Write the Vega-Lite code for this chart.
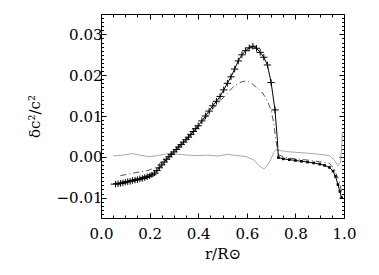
{
  "$schema": "https://vega.github.io/schema/vega-lite/v6.json",
  "width": 243,
  "height": 204,
  "autosize": {"type": "none"},
  "padding": {"left": 101, "top": 14, "right": 35, "bottom": 57},
  "background": "white",
  "config": {
    "view": {"stroke": "black", "strokeWidth": 1},
    "axis": {
      "grid": false,
      "domain": false,
      "tickColor": "black",
      "tickWidth": 1,
      "labelFont": "DejaVu Serif, serif",
      "labelFontSize": 15,
      "labelColor": "black",
      "labelFlush": false,
      "labelOverlap": false,
      "titleFont": "DejaVu Serif, serif",
      "titleFontSize": 15,
      "titleFontWeight": "normal",
      "titleColor": "black"
    }
  },
  "datasets": {
    "main": [
      {"r": 0.06, "v": -0.0067, "er": 0.02, "ev": 0.0008, "kind": "inv"},
      {"r": 0.07, "v": -0.0066, "er": 0.02, "ev": 0.0008, "kind": "inv"},
      {"r": 0.08, "v": -0.0065, "er": 0.02, "ev": 0.0008, "kind": "inv"},
      {"r": 0.09, "v": -0.0064, "er": 0.02, "ev": 0.0008, "kind": "inv"},
      {"r": 0.10, "v": -0.0062, "er": 0.02, "ev": 0.0008, "kind": "inv"},
      {"r": 0.11, "v": -0.0061, "er": 0.02, "ev": 0.0008, "kind": "inv"},
      {"r": 0.12, "v": -0.0060, "er": 0.02, "ev": 0.0008, "kind": "inv"},
      {"r": 0.13, "v": -0.0058, "er": 0.02, "ev": 0.0008, "kind": "inv"},
      {"r": 0.14, "v": -0.0057, "er": 0.02, "ev": 0.0008, "kind": "inv"},
      {"r": 0.15, "v": -0.0056, "er": 0.02, "ev": 0.0008, "kind": "inv"},
      {"r": 0.16, "v": -0.0054, "er": 0.02, "ev": 0.0008, "kind": "inv"},
      {"r": 0.17, "v": -0.0053, "er": 0.02, "ev": 0.0008, "kind": "inv"},
      {"r": 0.18, "v": -0.0051, "er": 0.02, "ev": 0.0008, "kind": "inv"},
      {"r": 0.19, "v": -0.0049, "er": 0.02, "ev": 0.0008, "kind": "inv"},
      {"r": 0.20, "v": -0.0047, "er": 0.018, "ev": 0.0007, "kind": "inv"},
      {"r": 0.21, "v": -0.0044, "er": 0.018, "ev": 0.0007, "kind": "inv"},
      {"r": 0.22, "v": -0.0040, "er": 0.017, "ev": 0.0007, "kind": "inv"},
      {"r": 0.23, "v": -0.0034, "er": 0.016, "ev": 0.0007, "kind": "inv"},
      {"r": 0.24, "v": -0.0027, "er": 0.015, "ev": 0.0007, "kind": "inv"},
      {"r": 0.25, "v": -0.0020, "er": 0.015, "ev": 0.0007, "kind": "inv"},
      {"r": 0.26, "v": -0.0013, "er": 0.015, "ev": 0.0007, "kind": "inv"},
      {"r": 0.27, "v": -0.0006, "er": 0.015, "ev": 0.0007, "kind": "inv"},
      {"r": 0.28, "v": 0.0000, "er": 0.015, "ev": 0.0007, "kind": "inv"},
      {"r": 0.29, "v": 0.0006, "er": 0.015, "ev": 0.0007, "kind": "inv"},
      {"r": 0.30, "v": 0.0012, "er": 0.015, "ev": 0.0007, "kind": "inv"},
      {"r": 0.31, "v": 0.0018, "er": 0.015, "ev": 0.0007, "kind": "inv"},
      {"r": 0.32, "v": 0.0024, "er": 0.015, "ev": 0.0007, "kind": "inv"},
      {"r": 0.33, "v": 0.0030, "er": 0.015, "ev": 0.0007, "kind": "inv"},
      {"r": 0.34, "v": 0.0036, "er": 0.015, "ev": 0.0007, "kind": "inv"},
      {"r": 0.35, "v": 0.0042, "er": 0.015, "ev": 0.0007, "kind": "inv"},
      {"r": 0.36, "v": 0.0048, "er": 0.015, "ev": 0.0007, "kind": "inv"},
      {"r": 0.37, "v": 0.0055, "er": 0.015, "ev": 0.0007, "kind": "inv"},
      {"r": 0.38, "v": 0.0062, "er": 0.015, "ev": 0.0008, "kind": "inv"},
      {"r": 0.39, "v": 0.0069, "er": 0.015, "ev": 0.0008, "kind": "inv"},
      {"r": 0.40, "v": 0.0076, "er": 0.015, "ev": 0.0008, "kind": "inv"},
      {"r": 0.415, "v": 0.0088, "er": 0.015, "ev": 0.0008, "kind": "inv"},
      {"r": 0.43, "v": 0.0100, "er": 0.015, "ev": 0.0008, "kind": "inv"},
      {"r": 0.445, "v": 0.0112, "er": 0.015, "ev": 0.0008, "kind": "inv"},
      {"r": 0.46, "v": 0.0125, "er": 0.015, "ev": 0.0008, "kind": "inv"},
      {"r": 0.475, "v": 0.0136, "er": 0.015, "ev": 0.0008, "kind": "inv"},
      {"r": 0.49, "v": 0.0148, "er": 0.015, "ev": 0.0008, "kind": "inv"},
      {"r": 0.505, "v": 0.0164, "er": 0.015, "ev": 0.0008, "kind": "inv"},
      {"r": 0.52, "v": 0.0180, "er": 0.015, "ev": 0.0008, "kind": "inv"},
      {"r": 0.535, "v": 0.0196, "er": 0.015, "ev": 0.0008, "kind": "inv"},
      {"r": 0.55, "v": 0.0215, "er": 0.015, "ev": 0.0008, "kind": "inv"},
      {"r": 0.565, "v": 0.0235, "er": 0.015, "ev": 0.0008, "kind": "inv"},
      {"r": 0.58, "v": 0.0250, "er": 0.015, "ev": 0.0008, "kind": "inv"},
      {"r": 0.595, "v": 0.0260, "er": 0.015, "ev": 0.0008, "kind": "inv"},
      {"r": 0.61, "v": 0.0267, "er": 0.015, "ev": 0.0008, "kind": "inv"},
      {"r": 0.625, "v": 0.0271, "er": 0.015, "ev": 0.0008, "kind": "inv"},
      {"r": 0.64, "v": 0.0266, "er": 0.015, "ev": 0.0008, "kind": "inv"},
      {"r": 0.655, "v": 0.0256, "er": 0.015, "ev": 0.0008, "kind": "inv"},
      {"r": 0.67, "v": 0.0244, "er": 0.015, "ev": 0.0008, "kind": "inv"},
      {"r": 0.685, "v": 0.0225, "er": 0.015, "ev": 0.0008, "kind": "inv"},
      {"r": 0.70, "v": 0.0182, "er": 0.015, "ev": 0.0008, "kind": "inv"},
      {"r": 0.716, "v": 0.0115, "er": 0.015, "ev": 0.0008, "kind": "inv"},
      {"r": 0.726, "v": 0.0040, "kind": "line"},
      {"r": 0.73, "v": -0.0002, "kind": "tail"},
      {"r": 0.75, "v": -0.0005, "kind": "tail"},
      {"r": 0.775, "v": -0.0007, "kind": "tail"},
      {"r": 0.80, "v": -0.0009, "kind": "tail"},
      {"r": 0.825, "v": -0.0011, "kind": "tail"},
      {"r": 0.85, "v": -0.0013, "kind": "tail"},
      {"r": 0.875, "v": -0.0015, "kind": "tail"},
      {"r": 0.90, "v": -0.0018, "kind": "tail"},
      {"r": 0.92, "v": -0.0021, "kind": "tail"},
      {"r": 0.94, "v": -0.0026, "kind": "tail"},
      {"r": 0.955, "v": -0.0035, "kind": "tail"},
      {"r": 0.965, "v": -0.0048, "kind": "tail"},
      {"r": 0.975, "v": -0.0068, "kind": "tail"},
      {"r": 0.983, "v": -0.0085, "kind": "tail"},
      {"r": 0.99, "v": -0.0100, "kind": "tail"}
    ],
    "dashdot": [
      {"r": 0.08, "v": -0.0046},
      {"r": 0.10, "v": -0.0044},
      {"r": 0.13, "v": -0.0040},
      {"r": 0.16, "v": -0.0037},
      {"r": 0.19, "v": -0.0034},
      {"r": 0.22, "v": -0.0028},
      {"r": 0.25, "v": -0.0012},
      {"r": 0.28, "v": 0.0005},
      {"r": 0.31, "v": 0.0022},
      {"r": 0.34, "v": 0.0038},
      {"r": 0.37, "v": 0.0055},
      {"r": 0.40, "v": 0.0073},
      {"r": 0.43, "v": 0.0095},
      {"r": 0.46, "v": 0.0118},
      {"r": 0.49, "v": 0.0136},
      {"r": 0.52, "v": 0.0156},
      {"r": 0.55, "v": 0.0175},
      {"r": 0.58, "v": 0.0184},
      {"r": 0.60, "v": 0.0186},
      {"r": 0.62, "v": 0.0180},
      {"r": 0.64, "v": 0.0170},
      {"r": 0.66, "v": 0.0160},
      {"r": 0.68, "v": 0.0143},
      {"r": 0.70, "v": 0.0115},
      {"r": 0.71, "v": 0.0085},
      {"r": 0.72, "v": 0.0040},
      {"r": 0.73, "v": 0.0005},
      {"r": 0.76, "v": -0.0002},
      {"r": 0.80, "v": -0.0005},
      {"r": 0.85, "v": -0.0008},
      {"r": 0.90, "v": -0.0012},
      {"r": 0.94, "v": -0.0016},
      {"r": 0.96, "v": -0.0030},
      {"r": 0.98, "v": -0.0060},
      {"r": 0.99, "v": -0.0085}
    ],
    "grey": [
      {"r": 0.05, "v": 0.0002},
      {"r": 0.10, "v": 0.0005},
      {"r": 0.13, "v": 0.0008},
      {"r": 0.16, "v": 0.0004},
      {"r": 0.20, "v": 0.0000},
      {"r": 0.24, "v": 0.0004},
      {"r": 0.28, "v": 0.0008},
      {"r": 0.32, "v": 0.0006},
      {"r": 0.36, "v": 0.0004},
      {"r": 0.40, "v": 0.0003},
      {"r": 0.44, "v": 0.0004},
      {"r": 0.48, "v": 0.0002},
      {"r": 0.52, "v": 0.0006},
      {"r": 0.56, "v": 0.0003},
      {"r": 0.60, "v": 0.0000},
      {"r": 0.63, "v": -0.0008},
      {"r": 0.65, "v": -0.0022},
      {"r": 0.67, "v": -0.0030},
      {"r": 0.685, "v": -0.0022},
      {"r": 0.70, "v": -0.0005},
      {"r": 0.71, "v": 0.0010},
      {"r": 0.72, "v": 0.0018},
      {"r": 0.73, "v": 0.0016},
      {"r": 0.76, "v": 0.0013},
      {"r": 0.80, "v": 0.0011},
      {"r": 0.85, "v": 0.0009},
      {"r": 0.90, "v": 0.0006},
      {"r": 0.94, "v": 0.0003},
      {"r": 0.96, "v": -0.0008},
      {"r": 0.975, "v": -0.0022},
      {"r": 0.985, "v": -0.0015},
      {"r": 0.99, "v": 0.0020},
      {"r": 0.993, "v": 0.0060}
    ]
  },
  "resolve": {"scale": {"x": "shared", "y": "shared"}, "axis": {"x": "independent", "y": "independent"}},
  "layer": [
    {
      "data": {"name": "grey"},
      "mark": {"type": "line", "color": "#aaa", "strokeWidth": 1},
      "encoding": {
        "x": {"field": "r", "type": "quantitative", "scale": {"domain": [0, 1], "nice": false, "zero": false},
              "axis": {"orient": "bottom", "values": [0, 0.2, 0.4, 0.6, 0.8, 1.0], "format": ".1f", "tickSize": -5, "labelPadding": 13, "title": "r/R⊙", "titlePadding": 5}},
        "y": {"field": "v", "type": "quantitative", "scale": {"domain": [-0.015, 0.035], "nice": false, "zero": false},
              "axis": {"orient": "left", "values": [-0.01, 0, 0.01, 0.02, 0.03], "format": ".2f", "tickSize": -5, "labelPadding": 4, "title": "δc²/c²", "titlePadding": 14}}
      }
    },
    {
      "mark": {"type": "rule", "color": "#333", "strokeWidth": 1, "strokeDash": [6, 3, 1, 3]},
      "encoding": {
        "y": {"datum": 0, "type": "quantitative", "scale": {"domain": [-0.015, 0.035], "nice": false, "zero": false}, "axis": null}
      }
    },
    {
      "data": {"name": "dashdot"},
      "mark": {"type": "line", "color": "#555", "strokeWidth": 1, "strokeDash": [6, 3, 1, 3]},
      "encoding": {
        "x": {"field": "r", "type": "quantitative", "scale": {"domain": [0, 1], "nice": false, "zero": false},
              "axis": {"orient": "bottom", "values": [0.05, 0.1, 0.15, 0.25, 0.3, 0.35, 0.45, 0.5, 0.55, 0.65, 0.7, 0.75, 0.85, 0.9, 0.95], "tickSize": -3, "labels": false, "title": null}},
        "y": {"field": "v", "type": "quantitative", "scale": {"domain": [-0.015, 0.035], "nice": false, "zero": false},
              "axis": {"orient": "left", "values": [-0.014, -0.013, -0.012, -0.011, -0.009, -0.008, -0.007, -0.006, -0.005, -0.004, -0.003, -0.002, -0.001, 0.001, 0.002, 0.003, 0.004, 0.005, 0.006, 0.007, 0.008, 0.009, 0.011, 0.012, 0.013, 0.014, 0.015, 0.016, 0.017, 0.018, 0.019, 0.021, 0.022, 0.023, 0.024, 0.025, 0.026, 0.027, 0.028, 0.029, 0.031, 0.032, 0.033, 0.034], "tickSize": -2.5, "labels": false, "title": null}}
      }
    },
    {
      "data": {"name": "main"},
      "mark": {"type": "line", "color": "black", "strokeWidth": 1},
      "encoding": {
        "x": {"field": "r", "type": "quantitative", "scale": {"domain": [0, 1], "nice": false, "zero": false},
              "axis": {"orient": "top", "values": [0, 0.2, 0.4, 0.6, 0.8, 1.0], "tickSize": -5, "labels": false, "title": null}},
        "y": {"field": "v", "type": "quantitative", "scale": {"domain": [-0.015, 0.035], "nice": false, "zero": false},
              "axis": {"orient": "right", "values": [-0.01, 0, 0.01, 0.02, 0.03], "tickSize": -5, "labels": false, "title": null}}
      }
    },
    {
      "data": {"name": "main"},
      "transform": [{"filter": "datum.kind === 'tail'"}],
      "mark": {"type": "point", "shape": "square", "filled": true, "color": "black", "size": 7, "opacity": 1},
      "encoding": {
        "x": {"field": "r", "type": "quantitative", "scale": {"domain": [0, 1], "nice": false, "zero": false},
              "axis": {"orient": "top", "values": [0.05, 0.1, 0.15, 0.25, 0.3, 0.35, 0.45, 0.5, 0.55, 0.65, 0.7, 0.75, 0.85, 0.9, 0.95], "tickSize": -3, "labels": false, "title": null}},
        "y": {"field": "v", "type": "quantitative", "scale": {"domain": [-0.015, 0.035], "nice": false, "zero": false},
              "axis": {"orient": "right", "values": [-0.014, -0.013, -0.012, -0.011, -0.009, -0.008, -0.007, -0.006, -0.005, -0.004, -0.003, -0.002, -0.001, 0.001, 0.002, 0.003, 0.004, 0.005, 0.006, 0.007, 0.008, 0.009, 0.011, 0.012, 0.013, 0.014, 0.015, 0.016, 0.017, 0.018, 0.019, 0.021, 0.022, 0.023, 0.024, 0.025, 0.026, 0.027, 0.028, 0.029, 0.031, 0.032, 0.033, 0.034], "tickSize": -2.5, "labels": false, "title": null}}
      }
    },
    {
      "data": {"name": "main"},
      "transform": [{"filter": "datum.kind === 'inv'"}],
      "mark": {"type": "errorbar", "ticks": false, "color": "black", "rule": {"strokeWidth": 1}},
      "encoding": {
        "x": {"field": "r", "type": "quantitative", "scale": {"domain": [0, 1], "nice": false, "zero": false}, "axis": null},
        "xError": {"field": "er"},
        "y": {"field": "v", "type": "quantitative", "scale": {"domain": [-0.015, 0.035], "nice": false, "zero": false}, "axis": null}
      }
    },
    {
      "data": {"name": "main"},
      "transform": [{"filter": "datum.kind === 'inv'"}],
      "mark": {"type": "errorbar", "ticks": false, "color": "black", "rule": {"strokeWidth": 1}},
      "encoding": {
        "y": {"field": "v", "type": "quantitative", "scale": {"domain": [-0.015, 0.035], "nice": false, "zero": false}, "axis": null},
        "yError": {"field": "ev"},
        "x": {"field": "r", "type": "quantitative", "scale": {"domain": [0, 1], "nice": false, "zero": false}, "axis": null}
      }
    }
  ]
}
